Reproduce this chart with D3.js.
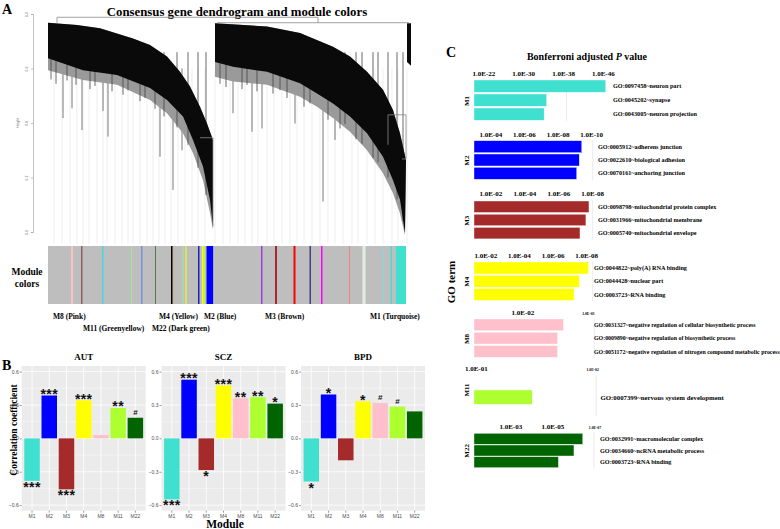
<!DOCTYPE html>
<html>
<head>
<meta charset="utf-8">
<script src="https://cdn.jsdelivr.net/npm/d3@7"></script>
<style>
    body { margin: 0; background: #fff; }
    svg { display: block; }
    .serif { font-family: "Liberation Serif", "Times New Roman", serif; font-weight: bold; }
    .sans { font-family: "Liberation Sans", Arial, sans-serif; }
</style>
</head>
<body>
<div id="chart"></div>
<script>

/* ---------- A: dendrogram (leaf index 0..365, merge height) ---------- */
const dendroTicks = [0.6, 0.7, 0.8, 0.9, 1.0];

const leftTop = [[0, 0.984], [29, 0.980], [52, 0.974], [85, 0.955], [102, 0.943], [119, 0.922],
    [132, 0.894], [142, 0.867], [152, 0.830], [159, 0.799], [165, 0.769]];
const leftBottom = [[0, 0.919], [35, 0.897], [69, 0.888], [102, 0.864], [119, 0.842], [135, 0.812],
    [145, 0.769], [155, 0.720], [162, 0.659], [165, 0.610]];
const leftFringe = [[0, 0.897], [35, 0.879], [69, 0.870], [102, 0.842], [119, 0.818], [135, 0.781],
    [145, 0.745], [155, 0.695], [162, 0.635], [165, 0.604]];

const rightTop = [[167, 0.983], [219, 0.977], [252, 0.965], [285, 0.940], [302, 0.922], [319, 0.894],
    [335, 0.861], [345, 0.824], [352, 0.781], [358, 0.732]];
const rightBottom = [[167, 0.912], [185, 0.903], [219, 0.894], [252, 0.873], [269, 0.854], [285, 0.836],
    [302, 0.812], [319, 0.781], [335, 0.738], [345, 0.695], [352, 0.659], [357, 0.598]];
const rightFringe = [[167, 0.885], [185, 0.876], [219, 0.870], [252, 0.848], [269, 0.830], [285, 0.809],
    [302, 0.784], [319, 0.750], [335, 0.708], [345, 0.671], [352, 0.634], [357, 0.594]];

const smallTop = [[359, 0.983], [363, 0.983]];
const smallBottom = [[359, 0.912], [363, 0.905]];

// long single branches hanging under the mass: [leaf, lowest height]
const spikes = [[15, 0.809], [24, 0.827], [34, 0.787], [55, 0.822], [60, 0.775], [112, 0.738],
    [125, 0.677], [134, 0.750], [185, 0.818], [204, 0.784], [214, 0.790], [247, 0.799],
    [275, 0.656], [287, 0.769]];

// shorter streaks inside the grey fringe: [leaf, lowest height]
const streaks = [[3, 0.880], [8, 0.872], [19, 0.878], [28, 0.870], [42, 0.862], [47, 0.868], [64, 0.858],
    [75, 0.852], [80, 0.860], [92, 0.840], [97, 0.846], [107, 0.826], [116, 0.812], [129, 0.792],
    [140, 0.760], [150, 0.718], [158, 0.668], [172, 0.872], [178, 0.866], [194, 0.862], [199, 0.870],
    [209, 0.858], [225, 0.854], [232, 0.860], [239, 0.846], [256, 0.830], [262, 0.836], [280, 0.806],
    [292, 0.790], [297, 0.798], [308, 0.770], [314, 0.762], [325, 0.736], [330, 0.728], [340, 0.700],
    [349, 0.660], [355, 0.620]];

// horizontal merges: [leaf from, leaf to, height]
const merges = [[9, 270, 0.994], [169, 361, 0.984], [152, 165, 0.773], [340, 358, 0.815], [354, 358, 0.734]];
// vertical joins: [leaf, height from, height to]
const joins = [[9, 0.994, 0.984], [270, 0.994, 0.984], [361, 0.984, 0.983], [165, 0.773, 0.610],
    [358, 0.815, 0.734], [340, 0.815, 0.760]];

// faint singleton leaves reaching down to the colour row
const leafLines = [6, 14, 22, 29, 35, 41, 49, 55, 59, 67, 74, 80, 85, 92, 99, 105, 111, 117, 123, 130,
    137, 144, 150, 157, 167, 175, 182, 190, 197, 204, 210, 219, 226, 234, 242, 249, 256, 264, 272,
    280, 287, 295, 304, 310, 319, 327, 335, 344, 350, 359];

// module colour row: [leaf start, gene width, colour]
const stripes = [[23, 2, "#ffc0cb"], [33, 1.5, "#8b5f5f"], [54, 1.5, "#45d8e0"], [83, 1, "#9ee89e"],
    [93, 1.5, "#7b8fe0"], [107, 1, "#4f7a4f"], [123, 1.5, "#000000"], [125, 1, "#d2b48c"],
    [134.5, 1, "#9ee89e"], [137.5, 1, "#ffff00"], [150, 1.5, "#2020c0"], [154, 1.5, "#ffff00"],
    [155.5, 1.5, "#adff2f"], [158.5, 6.6, "#0000ff"], [213, 1.5, "#9a40e0"], [227, 2, "#a52a2a"],
    [245.5, 2, "#ff0000"], [261.5, 1.5, "#483d8b"], [273, 1.5, "#ff00ff"], [301, 1, "#fa8072"],
    [314.5, 3, "#e4eee0"], [334.5, 1, "#80e0d8"], [342.5, 1.5, "#40e0d0"], [348, 10, "#40e0d0"]];

const moduleNames = ["M8 (Pink)", "M11 (Greenyellow)", "M4 (Yellow)", "M2 (Blue)",
    "M22 (Dark green)", "M3 (Brown)", "M1 (Turquoise)"];
const moduleNamePos = [5, 35, 111, 156, 104, 217, 322];
const moduleNameRow = [0, 1, 0, 0, 1, 0, 0];

/* ---------- B: module-trait correlations ---------- */
const modules = ["M1", "M2", "M3", "M4", "M8", "M11", "M22"];
const moduleColors = ["#40e0d0", "#0000ff", "#a52a2a", "#ffff00", "#ffc0cb", "#adff2f", "#006400"];
const disorders = ["AUT", "SCZ", "BPD"];
const autCorr = [-0.382, 0.385, -0.458, 0.342, 0.030, 0.273, 0.185];
const sczCorr = [-0.548, 0.527, -0.285, 0.476, 0.361, 0.370, 0.312];
const bpdCorr = [-0.388, 0.394, -0.197, 0.333, 0.318, 0.285, 0.242];
const autSig = ["***", "***", "***", "***", "", "**", "#"];
const sczSig = ["***", "***", "*", "***", "**", "**", "*"];
const bpdSig = ["*", "*", "", "*", "#", "#", ""];
const corrTicks = [-0.6, -0.3, 0.0, 0.3, 0.6];
const corrMinor = [-0.45, -0.15, 0.15, 0.45];

/* ---------- C: GO enrichment, -log10(Bonferroni P) ---------- */
const goModules = ["M1", "M2", "M3", "M4", "M8", "M11", "M22"];
const goTerms = [
    ["GO:0097458~neuron part", "GO:0045202~synapse", "GO:0043005~neuron projection"],
    ["GO:0005912~adherens junction", "GO:0022610~biological adhesion", "GO:0070161~anchoring junction"],
    ["GO:0098798~mitochondrial protein complex", "GO:0031966~mitochondrial membrane", "GO:0005740~mitochondrial envelope"],
    ["GO:0044822~poly(A) RNA binding", "GO:0044428~nuclear part", "GO:0003723~RNA binding"],
    ["GO:0031327~negative regulation of cellular biosynthetic process",
     "GO:0009890~negative regulation of biosynthetic process",
     "GO:0051172~negative regulation of nitrogen compound metabolic process"],
    ["GO:0007399~nervous system development"],
    ["GO:0032991~macromolecular complex", "GO:0034660~ncRNA metabolic process", "GO:0003723~RNA binding"]
];
const goLogP = [
    [46.5, 34.6, 34.1],
    [9.41, 9.26, 9.11],
    [7.78, 7.60, 7.25],
    [8.10, 7.56, 7.25],
    [2.62, 2.53, 2.53],
    [1.48],
    [6.42, 6.00, 5.26]
];
const goTicks = [[22, 30, 38, 46], [4, 6, 8, 10], [2, 4, 6, 8], [2, 4, 6, 8], [2, 3], [1, 2], [3, 5, 7]];
const goDomainMin = [20, 3, 1, 1.3, 1.25, 0.98, 1.25];
const goGuide = [38.6, 10.06, 8.0, 8.36, 3.09, 2.03, 6.95];


/* ================= drawing ================= */
const W = 780, H = 529;
const svg = d3.select("#chart").append("svg")
    .attr("width", W)
    .attr("height", H);

const letter = (t, x, y) => svg.append("text").attr("class", "serif")
    .attr("x", x).attr("y", y).attr("font-size", 14).text(t);

// ---------- Panel A ----------
letter("A", 2, 14);
svg.append("text").attr("class", "serif")
    .attr("x", 237).attr("y", 16)
    .attr("text-anchor", "middle")
    .attr("font-size", 12.8)
    .text("Consensus gene dendrogram and module colors");

let dx = d3.scaleLinear().domain([0, 365]).range([48, 413]);
let dy = d3.scaleLinear().domain([0.6, 1.0]).range([232, 14]);

let gA = svg.append("g");

// y axis
let yAxisA = gA.append("g")
    .attr("transform", "translate(33,0)")
    .call(d3.axisLeft(dy).tickValues(dendroTicks).tickSize(2).tickFormat(d3.format(".1f")));
yAxisA.select(".domain").attr("stroke", "#999").attr("stroke-width", 0.6);
yAxisA.selectAll(".tick line").attr("stroke", "#999").attr("stroke-width", 0.6);
yAxisA.selectAll(".tick text")
    .attr("font-size", 3.5)
    .attr("fill", "#666")
    .attr("x", 0).attr("y", 0)
    .attr("text-anchor", "middle")
    .attr("transform", "translate(-6,0) rotate(-90)");
gA.append("text").attr("class", "sans")
    .attr("transform", "translate(19,123) rotate(-90)")
    .attr("text-anchor", "middle")
    .attr("font-size", 3.5).attr("fill", "#666")
    .text("Height");

// faint leaves
gA.selectAll(".leaf").data(leafLines).enter().append("line")
    .attr("x1", d => dx(d)).attr("x2", d => dx(d))
    .attr("y1", dy(0.9)).attr("y2", dy(0.578))
    .attr("stroke", "#e3e3e3").attr("stroke-width", 0.6);

// spikes
gA.selectAll(".spike").data(spikes).enter().append("line")
    .attr("x1", d => dx(d[0])).attr("x2", d => dx(d[0]))
    .attr("y1", dy(0.9)).attr("y2", d => dy(d[1]))
    .attr("stroke", "#555").attr("stroke-width", 0.8);

const poly = (top, bottom) => d3.line().x(d => dx(d[0])).y(d => dy(d[1]))
    (top.concat(bottom.slice().reverse())) + "Z";

[[leftTop, leftFringe], [rightTop, rightFringe]].forEach(p => {
    gA.append("path").attr("d", poly(p[0], p[1])).attr("fill", "#9a9a9a");
});

gA.selectAll(".streak").data(streaks).enter().append("line")
    .attr("x1", d => dx(d[0])).attr("x2", d => dx(d[0]))
    .attr("y1", dy(0.93)).attr("y2", d => dy(d[1]))
    .attr("stroke", "#444").attr("stroke-width", 0.8);

[[leftTop, leftBottom], [rightTop, rightBottom], [smallTop, smallBottom]].forEach(p => {
    gA.append("path").attr("d", poly(p[0], p[1])).attr("fill", "#0a0a0a");
});

// merges
gA.selectAll(".merge").data(merges).enter().append("line")
    .attr("x1", d => dx(d[0])).attr("x2", d => dx(d[1]))
    .attr("y1", d => dy(d[2])).attr("y2", d => dy(d[2]))
    .attr("stroke", "#888").attr("stroke-width", 0.8);
gA.selectAll(".join").data(joins).enter().append("line")
    .attr("x1", d => dx(d[0])).attr("x2", d => dx(d[0]))
    .attr("y1", d => dy(d[1])).attr("y2", d => dy(d[2]))
    .attr("stroke", "#888").attr("stroke-width", 0.8);

// module colour row
gA.append("rect")
    .attr("x", dx(0)).attr("y", 246)
    .attr("width", dx(358) - dx(0)).attr("height", 58)
    .attr("fill", "#bebebe");
gA.selectAll(".stripe").data(stripes).enter().append("rect")
    .attr("x", d => dx(d[0])).attr("y", 246)
    .attr("width", d => dx(d[0] + d[1]) - dx(d[0])).attr("height", 58)
    .attr("fill", d => d[2]);

gA.append("text").attr("class", "serif")
    .attr("x", 27).attr("y", 275).attr("text-anchor", "middle")
    .attr("font-size", 9.5).text("Module");
gA.append("text").attr("class", "serif")
    .attr("x", 27).attr("y", 287).attr("text-anchor", "middle")
    .attr("font-size", 9.5).text("colors");

gA.selectAll(".mname").data(moduleNames).enter().append("text")
    .attr("class", "serif")
    .attr("x", (d, i) => dx(moduleNamePos[i]))
    .attr("y", (d, i) => moduleNameRow[i] ? 331 : 319)
    .attr("font-size", 7.5)
    .text(d => d);

// ---------- Panel B ----------
letter("B", 2, 370);

const corrData = [autCorr, sczCorr, bpdCorr];
const sigData = [autSig, sczSig, bpdSig];
const panelLeft = [21.7, 161.5, 301];
const panelW = 124;
const bTop = 366, bBottom = 510.7;

let by = d3.scaleLinear().domain([-0.65, 0.65]).range([bBottom, bTop]);

disorders.forEach((dis, k) => {
    let g = svg.append("g");
    let x0 = panelLeft[k];
    let bx = d3.scaleBand().domain(modules)
        .range([x0, x0 + panelW])
        .paddingInner(0.1).paddingOuter(0.15);

    g.append("rect")
        .attr("x", x0).attr("y", bTop)
        .attr("width", panelW).attr("height", bBottom - bTop)
        .attr("fill", "#ebebeb");

    g.selectAll(".minor").data(corrMinor).enter().append("line")
        .attr("x1", x0).attr("x2", x0 + panelW)
        .attr("y1", d => by(d)).attr("y2", d => by(d))
        .attr("stroke", "#fff").attr("stroke-width", 0.4);
    g.selectAll(".major").data(corrTicks).enter().append("line")
        .attr("x1", x0).attr("x2", x0 + panelW)
        .attr("y1", d => by(d)).attr("y2", d => by(d))
        .attr("stroke", "#fff").attr("stroke-width", 0.8);
    g.selectAll(".vgrid").data(modules).enter().append("line")
        .attr("x1", d => bx(d) + bx.bandwidth() / 2).attr("x2", d => bx(d) + bx.bandwidth() / 2)
        .attr("y1", bTop).attr("y2", bBottom)
        .attr("stroke", "#fff").attr("stroke-width", 0.8);

    g.selectAll(".bar").data(corrData[k]).enter().append("rect")
        .attr("x", (d, i) => bx(modules[i]))
        .attr("width", bx.bandwidth())
        .attr("y", d => by(Math.max(0, d)))
        .attr("height", d => Math.abs(by(d) - by(0)))
        .attr("fill", (d, i) => moduleColors[i]);

    // significance marks
    g.selectAll(".sig").data(sigData[k]).enter().append("text")
        .attr("class", "sans")
        .attr("x", (d, i) => bx(modules[i]) + bx.bandwidth() / 2)
        .attr("y", (d, i) => {
            let v = corrData[k][i];
            if (d === "#") return by(v) - 3;
            return v >= 0 ? by(v) + 3.5 : by(v) + 11;
        })
        .attr("text-anchor", "middle")
        .attr("font-size", d => d === "#" ? 8 : 14)
        .attr("font-weight", "bold")
        .attr("fill", "#111")
        .attr("letter-spacing", d => d === "#" ? 0 : 0.4)
        .text(d => d);

    let ya = g.append("g")
        .attr("transform", `translate(${x0},0)`)
        .call(d3.axisLeft(by).tickValues(corrTicks).tickSize(2).tickFormat(d3.format(".1f")));
    ya.select(".domain").remove();
    ya.selectAll(".tick line").attr("stroke", "#333").attr("stroke-width", 0.5);
    ya.selectAll(".tick text").attr("font-size", 5).attr("fill", "#4d4d4d").attr("x", -3);

    let xa = g.append("g")
        .attr("transform", `translate(0,${bBottom})`)
        .call(d3.axisBottom(bx).tickSize(2));
    xa.select(".domain").remove();
    xa.selectAll(".tick line").attr("stroke", "#333").attr("stroke-width", 0.5);
    xa.selectAll(".tick text").attr("font-size", 5).attr("fill", "#4d4d4d").attr("y", 3.5);

    g.append("text").attr("class", "serif")
        .attr("x", x0 + panelW / 2).attr("y", 360)
        .attr("text-anchor", "middle")
        .attr("font-size", 9)
        .text(dis);
});

svg.append("text").attr("class", "serif")
    .attr("transform", "translate(17,430) rotate(-90)")
    .attr("text-anchor", "middle")
    .attr("font-size", 9.5)
    .text("Correlation coefficient");
svg.append("text").attr("class", "serif")
    .attr("x", 225).attr("y", 528)
    .attr("text-anchor", "middle")
    .attr("font-size", 11.5)
    .text("Module");

// ---------- Panel C ----------
letter("C", 446, 57);
let ctitle = svg.append("text").attr("class", "serif")
    .attr("x", 587).attr("y", 60)
    .attr("text-anchor", "middle")
    .attr("font-size", 10);
ctitle.append("tspan").text("Bonferroni adjusted ");
ctitle.append("tspan").attr("font-style", "italic").text("P");
ctitle.append("tspan").text(" value");

svg.append("text").attr("class", "serif")
    .attr("transform", "translate(455,282) rotate(-90)")
    .attr("text-anchor", "middle")
    .attr("font-size", 11)
    .text("GO term");

// layout of each module block: first bar top, bar step, bar height, axis label baseline, axis end x
const goLayout = [
    {top: 80, step: 14, h: 12.3, axisY: 76, x1: 603.3, labelX: 613, fs: 6.2, smallLast: false},
    {top: 140.7, step: 13.3, h: 12, axisY: 137, x1: 591.7, labelX: 598, fs: 6.2, smallLast: false},
    {top: 201, step: 13.2, h: 11.5, axisY: 196, x1: 592.7, labelX: 598, fs: 6.2, smallLast: false},
    {top: 262, step: 13.2, h: 12, axisY: 258, x1: 586.7, labelX: 594, fs: 6.2, smallLast: false},
    {top: 319, step: 13.3, h: 11.7, axisY: 315, x1: 588.3, labelX: 594, fs: 5.9, smallLast: true},
    {top: 390, step: 14.5, h: 14.3, axisY: 371, x1: 592.7, labelX: 600.5, fs: 6.8, smallLast: true},
    {top: 433.3, step: 11.7, h: 11, axisY: 429, x1: 595, labelX: 600, fs: 6.2, smallLast: true}
];
const barX0 = 474;

goModules.forEach((m, k) => {
    let L = goLayout[k];
    let g = svg.append("g");
    let gx = d3.scaleLinear().domain([goDomainMin[k], goTicks[k][goTicks[k].length - 1]])
        .range([barX0, L.x1]);
    let n = goLogP[k].length;
    let blockBottom = L.top + (n - 1) * L.step + L.h;

    // guide line
    g.append("line")
        .attr("x1", gx(goGuide[k])).attr("x2", gx(goGuide[k]))
        .attr("y1", k === 5 ? L.axisY + 4 : L.top - 1)
        .attr("y2", blockBottom + (k === 5 ? 12 : 1))
        .attr("stroke", "#e6e6e6").attr("stroke-width", 0.8);

    g.selectAll(".gobar").data(goLogP[k]).enter().append("rect")
        .attr("x", barX0)
        .attr("y", (d, i) => L.top + i * L.step)
        .attr("width", d => gx(d) - barX0)
        .attr("height", L.h)
        .attr("fill", moduleColors[k])
        .attr("stroke", "#fff").attr("stroke-width", 0.4);

    g.selectAll(".tick").data(goTicks[k]).enter().append("text")
        .attr("class", "serif")
        .attr("x", d => gx(d))
        .attr("y", (d, i) => L.axisY - (L.smallLast && i === goTicks[k].length - 1 ? 0.5 : 0))
        .attr("text-anchor", "middle")
        .attr("font-size", (d, i) => L.smallLast && i === goTicks[k].length - 1 ? 3.8 : 7)
        .text(d => "1.0E-" + d3.format("02d")(d));

    g.selectAll(".goterm").data(goTerms[k]).enter().append("text")
        .attr("class", "serif")
        .attr("x", L.labelX)
        .attr("y", (d, i) => L.top + i * L.step + L.h / 2)
        .attr("dy", "0.35em")
        .attr("font-size", L.fs)
        .text(d => d);

    let midY = k === 5 ? 390 : L.top + (n * L.step) / 2;
    g.append("text").attr("class", "serif")
        .attr("transform", `translate(469,${midY}) rotate(-90)`)
        .attr("text-anchor", "middle")
        .attr("font-size", 7)
        .text(m);
});

</script>
</body>
</html>
